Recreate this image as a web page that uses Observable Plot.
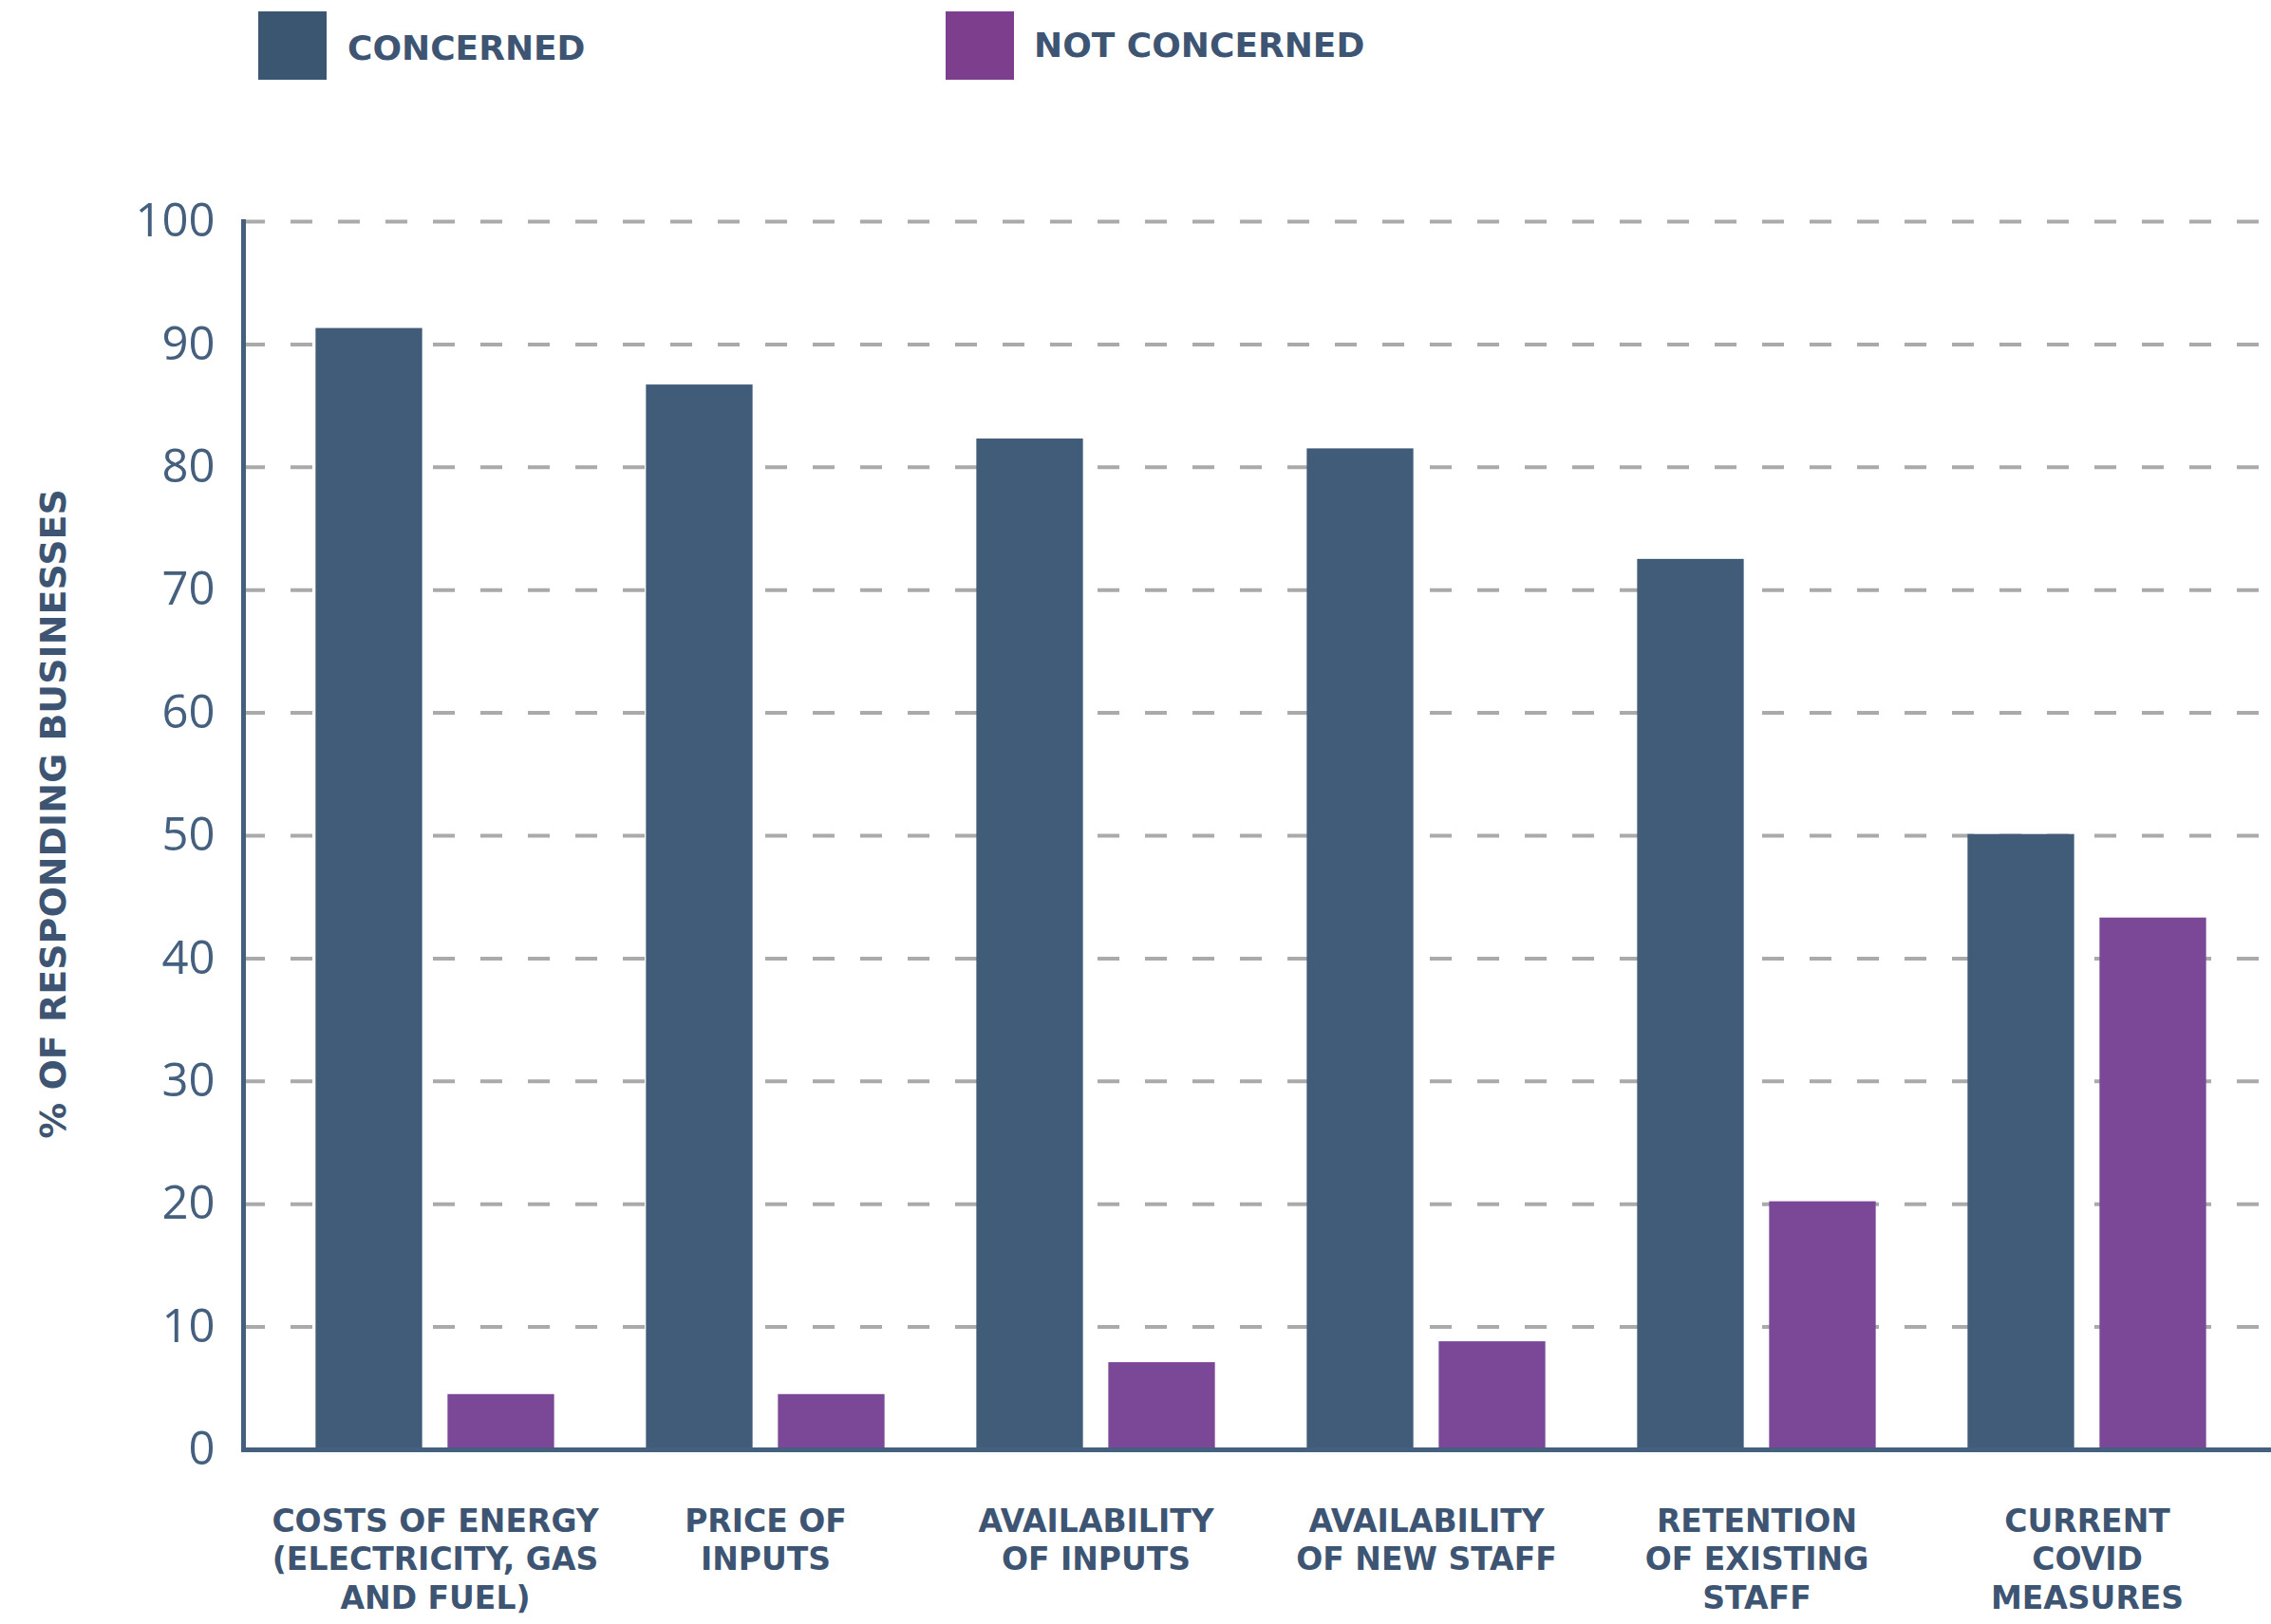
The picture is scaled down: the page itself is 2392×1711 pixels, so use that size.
<!DOCTYPE html>
<html>
<head>
<meta charset="utf-8">
<script src="https://cdn.jsdelivr.net/npm/d3@7"></script>
<script src="https://cdn.jsdelivr.net/npm/@observablehq/plot@0.6"></script>
<style>
  html, body { margin: 0; padding: 0; background: #ffffff; overflow: hidden; }
  #wrap { width: 2392px; }
  #legend { position: relative; width: 2392px; height: 120px; font-family: "DejaVu Sans", sans-serif; }
  .sw { position: absolute; top: 12px; width: 72px; height: 72px; }
  .lt { position: absolute; font-size: 36px; font-weight: 700; color: #3d5573; line-height: 1; white-space: nowrap; }
  #chart svg { display: block; }
</style>
</head>
<body>
<div id="wrap">
  <div id="legend"></div>
  <div id="chart"></div>
</div>
<script>
const categories = [
  "COSTS OF ENERGY\n(ELECTRICITY, GAS\nAND FUEL)",
  "PRICE OF\nINPUTS",
  "AVAILABILITY\nOF INPUTS",
  "AVAILABILITY\nOF NEW STAFF",
  "RETENTION\nOF EXISTING\nSTAFF",
  "CURRENT\nCOVID\nMEASURES"
];
const seriesNames = ["CONCERNED", "NOT CONCERNED"];
const concerned = [91.3, 86.7, 82.3, 81.5, 72.5, 50.1];
const notConcerned = [4.5, 4.5, 7.1, 8.8, 20.2, 43.3];
const yTicks = [0, 10, 20, 30, 40, 50, 60, 70, 80, 90, 100];
const yAxisLabel = "% OF RESPONDING BUSINESSES";

const barColors = ["#415c78", "#7b4898"];
const legendColors = ["#3b5670", "#7e3e8e"];
const textColor = "#3d5573";
const tickColor = "#44607e";

// legend
const legend = document.getElementById("legend");
const legendPos = [{box: 272, text: 366, top: 33}, {box: 996, text: 1089, top: 30}];
seriesNames.forEach((s, i) => {
  const b = document.createElement("div");
  b.className = "sw";
  b.style.left = legendPos[i].box + "px";
  b.style.background = legendColors[i];
  legend.appendChild(b);
  const t = document.createElement("div");
  t.className = "lt";
  t.style.left = legendPos[i].text + "px";
  t.style.top = legendPos[i].top + "px";
  t.textContent = s;
  legend.appendChild(t);
});

const rows = [];
categories.forEach((c, i) => {
  rows.push({category: c, series: seriesNames[0], value: concerned[i]});
  rows.push({category: c, series: seriesNames[1], value: notConcerned[i]});
});

const boldFont = "'DejaVu Sans', sans-serif";

const chart = Plot.plot({
  width: 2392,
  height: 1591,
  marginTop: 113,
  marginBottom: 184,
  marginLeft: 256,
  marginRight: 0,
  style: {fontFamily: "'Open Sans', 'Lato', sans-serif", background: "#ffffff"},
  x: {domain: categories, paddingInner: 0, paddingOuter: 0.063, align: 0.58, label: null},
  y: {domain: [0, 100], label: null},
  color: {domain: seriesNames, range: barColors},
  marks: [
    Plot.ruleY(yTicks.filter(d => d > 0), {stroke: "#aaaaaa", strokeWidth: 4, strokeDasharray: "23,27"}),
    Plot.barY(rows.filter(d => d.series === seriesNames[0]), {x: "category", y: "value", fill: "series", insetLeft: 48.35, insetRight: 187.35}),
    Plot.barY(rows.filter(d => d.series === seriesNames[1]), {x: "category", y: "value", fill: "series", insetLeft: 187.35, insetRight: 48.35}),
    Plot.axisY({ticks: yTicks, tickSize: 0, tickPadding: 30, fontSize: 49, fill: tickColor, label: null}),
    Plot.axisX({tickSize: 0, tickPadding: 57, fontSize: 33, fontWeight: 700, fontFamily: boldFont, fill: textColor, lineHeight: 1.24, label: null}),
    Plot.frame({anchor: "left", stroke: tickColor, strokeWidth: 5}),
    Plot.ruleY([0], {stroke: tickColor, strokeWidth: 5}),
    Plot.text([yAxisLabel], {text: d => d, frameAnchor: "left", textAnchor: "middle", rotate: -90, dx: -200, dy: -23, fontSize: 38, fontWeight: 700, fontFamily: boldFont, fill: textColor})
  ]
});
document.getElementById("chart").appendChild(chart);
</script>
</body>
</html>
